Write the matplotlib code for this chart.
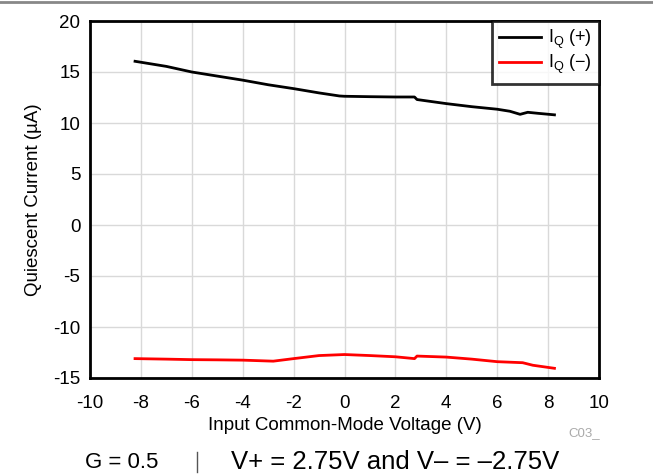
import matplotlib.pyplot as plt
import matplotlib.lines as mlines

plt.rcParams['font.family'] = ['Liberation Sans', 'DejaVu Sans']
plt.rcParams['axes.unicode_minus'] = False

# I_Q (+) curve
vcm_pos = [-8.23, -7.0, -6.0, -5.0, -4.0, -3.0, -2.0, -1.0, -0.2, 0.0, 1.0, 2.0, 2.75, 2.85,
           4.0, 5.0, 6.0, 6.5, 6.9, 7.2, 7.6, 8.25]
iq_pos = [16.05, 15.55, 15.0, 14.6, 14.2, 13.75, 13.37, 12.95, 12.65, 12.62, 12.58, 12.55, 12.55, 12.3,
          11.9, 11.6, 11.35, 11.15, 10.85, 11.05, 10.95, 10.8]

# I_Q (-) curve
vcm_neg = [-8.23, -7.0, -6.0, -5.0, -4.0, -2.8, -2.0, -1.0, 0.0, 1.0, 2.0, 2.75, 2.85,
           4.0, 5.0, 6.0, 7.0, 7.4, 8.25]
iq_neg = [-13.1, -13.15, -13.2, -13.22, -13.25, -13.35, -13.1, -12.8, -12.7, -12.8, -12.92, -13.1, -12.85,
          -12.95, -13.15, -13.4, -13.5, -13.75, -14.05]

x_ticks = list(range(-10, 11, 2))
y_ticks = list(range(-15, 21, 5))

fig = plt.figure(figsize=(6.53, 4.74), dpi=100)
ax = fig.add_axes([90 / 653, 1 - 378 / 474, 509 / 653, 357 / 474])

ax.plot(vcm_pos, iq_pos, color='black', lw=2)
ax.plot(vcm_neg, iq_neg, color='red', lw=2)

ax.set_xlim(-10, 10)
ax.set_ylim(-15, 20)
ax.set_xticks(x_ticks)
ax.set_yticks(y_ticks)
ax.grid(True, color='#d9d9d9', lw=1)
ax.set_axisbelow(True)
for s in ax.spines.values():
    s.set_linewidth(2)
ax.tick_params(length=0, labelsize=13.5)
ax.tick_params(axis='x', pad=12)
ax.tick_params(axis='y', pad=7)
ax.set_xlabel('Input Common-Mode Voltage (V)', fontsize=13.5, labelpad=4)
ax.set_ylabel('Quiescent Current (µA)', fontsize=13.5, labelpad=8)

leg = ax.legend(['I$_\\mathregular{Q}$ (+)', 'I$_\\mathregular{Q}$ (−)'], loc='upper right',
                fontsize=13, frameon=True, fancybox=False, borderaxespad=0,
                handlelength=2.3, handletextpad=0.4, borderpad=0.4, labelspacing=0.1)
leg.get_frame().set_edgecolor('black')
leg.get_frame().set_linewidth(2)

# header rule and footer notes
fig.add_artist(mlines.Line2D([0, 1], [1 - 1.5 / 474, 1 - 1.5 / 474], color='#888888', lw=2))
fig.text(584 / 653, 1 - 433 / 474, 'C03_', color='#aaaaaa', fontsize=9.5, ha='center', va='center')
fig.text(122 / 653, 1 - 462 / 474, 'G = 0.5', fontsize=16, ha='center', va='center')
fig.add_artist(mlines.Line2D([197 / 653, 197 / 653], [1 - 452 / 474, 1 - 472 / 474], color='#555555', lw=1))
fig.text(395 / 653, 1 - 462 / 474, 'V+ = 2.75V and V– = –2.75V', fontsize=18.5, ha='center', va='center')

fig.savefig('out.png', dpi=100)
